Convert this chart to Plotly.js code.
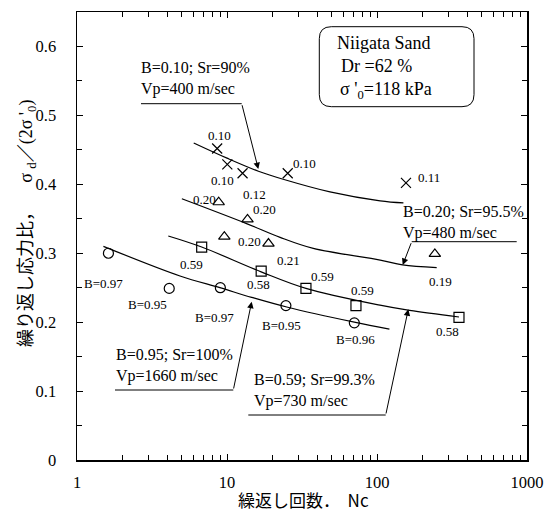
<!DOCTYPE html>
<html>
<head>
<meta charset="utf-8">
<script src="https://cdn.plot.ly/plotly-3.0.1.min.js"></script>
<style>html,body{margin:0;padding:0;background:#fff;}#chart{width:547px;height:512px;}</style>
</head>
<body>
<div id="chart"></div>
<script>
// ---- data ----
const nX = [8.6, 10.05, 12.7, 25.4, 156];
const sX = [0.452, 0.429, 0.416, 0.416, 0.402];
const lblX = ['0.10', '0.10', '0.12', '0.10', '0.11'];

const nTri = [8.8, 13.7, 9.6, 18.9, 243];
const sTri = [0.374, 0.349, 0.324, 0.314, 0.299];
const lblTri = ['0.20', '0.20', '0.20', '0.21', '0.19'];

const nSq = [6.78, 16.9, 33.6, 72.4, 352];
const sSq = [0.309, 0.274, 0.249, 0.224, 0.207];
const lblSq = ['0.59', '0.58', '0.59', '0.59', '0.58'];

const nCirc = [1.62, 4.12, 9.03, 24.7, 70.6];
const sCirc = [0.300, 0.249, 0.250, 0.224, 0.199];
const lblCirc = ['B=0.97', 'B=0.95', 'B=0.97', 'B=0.95', 'B=0.96'];

const fitXn = [6.0, 10, 16.2, 24, 48.6, 105, 150];
const fitXs = [0.460, 0.438, 0.419, 0.407, 0.389, 0.376, 0.373];
const fitTn = [5.0, 13.5, 22.6, 37.6, 105, 148, 250];
const fitTs = [0.379, 0.343, 0.323, 0.307, 0.290, 0.283, 0.279];
const fitSn = [4.06, 6.78, 16.9, 33.6, 104.7, 165, 352];
const fitSs = [0.325, 0.309, 0.273, 0.249, 0.2246, 0.217, 0.2075];
const fitCn = [1.50, 4.86, 8.97, 14.6, 25, 70.6, 121];
const fitCs = [0.310, 0.267, 0.250, 0.236, 0.222, 0.200, 0.190];

const xTickVals = [1, 10, 100, 1000];
const xTickText = ['1', '10', '100', '1000'];
const yTickVals = [0, 0.1, 0.2, 0.3, 0.4, 0.5, 0.6];
const yTickText = ['0', '0.1', '0.2', '0.3', '0.4', '0.5', '0.6'];

const callout1 = 'B=0.10; Sr=90%<br>Vp=400 m/sec';
const callout2 = 'B=0.20; Sr=95.5%<br>Vp=480 m/sec';
const callout3 = 'B=0.95; Sr=100%<br>Vp=1660 m/sec';
const callout4 = 'B=0.59; Sr=99.3%<br>Vp=730 m/sec';
const boxLines = ['Niigata Sand', 'Dr =62 %', "σ '<sub>0</sub>=118 kPa"];
const xTitle = '繰返し回数．\u00a0\u00a0Nc';
const yTitle = '繰り返し応力比，\u00a0\u00a0\u00a0\u00a0\u00a0' +
  '<span style="font-family:Liberation Serif">σ <sub>d</sub></span>／' +
  '<span style="font-family:Liberation Serif">(2σ \'<sub>0</sub>)</span>';

// ---- layout helpers ----
const L = 77, T = 12, W = 450, H = 448;
const px = x => (x - L) / W;
const py = y => (T + H - y) / H;
const SERIF = 'Liberation Serif';
const CJK = 'Noto Sans CJK JP';

const mk = (sym) => ({symbol: sym, size: 10, color: 'black', line: {color: 'black', width: 1.2}});
const lineTrace = (xs, ys) => ({x: xs, y: ys, mode: 'lines', type: 'scatter',
  line: {color: 'black', width: 1.2, shape: 'spline', smoothing: 1}, hoverinfo: 'skip'});
const ptTrace = (xs, ys, sym) => ({x: xs, y: ys, mode: 'markers', type: 'scatter', marker: mk(sym), cliponaxis: false});

const data = [
  lineTrace(fitXn, fitXs), lineTrace(fitTn, fitTs), lineTrace(fitSn, fitSs), lineTrace(fitCn, fitCs),
  ptTrace(nX, sX, 'x-thin-open'), ptTrace(nTri, sTri, 'triangle-up-open'),
  ptTrace(nSq, sSq, 'square-open'), ptTrace(nCirc, sCirc, 'circle-open'),
  {x: [xTickVals[1]], y: [yTickVals[1]], xaxis: 'x2', yaxis: 'y2', mode: 'markers', type: 'scatter',
   marker: {opacity: 0}, hoverinfo: 'skip'}
];

const annotations = [];
function labels(ns, ss, lbls, shifts) {
  ns.forEach((n, i) => annotations.push({
    x: Math.log10(n), y: ss[i], xref: 'x', yref: 'y', text: lbls[i], showarrow: false,
    xanchor: 'center', yanchor: 'middle',
    xshift: shifts[i][0], yshift: shifts[i][1], font: {family: SERIF, size: 13, color: 'black'}, borderpad: 0
  }));
}
labels(nX, sX, lblX, [[2, 13], [-5, -16], [12, -21], [17, 10], [23, 5]]);
labels(nTri, sTri, lblTri, [[-14, 3], [17, 10], [25, -5], [20, -17], [6, -28]]);
labels(nSq, sSq, lblSq, [[-10, -17], [-3, -13], [17, 12], [7, 15], [-11, -14]]);
labels(nCirc, sCirc, lblCirc, [[-5, -30], [-22, -16], [-6, -30], [-4, -20], [1, -17]]);

const shapes = [];
function callout(text, tx, ty, ux0, ux1, uy, tipx, tipy, tailx) {
  annotations.push({x: px(tx), y: py(ty), xref: 'paper', yref: 'paper', xanchor: 'left', yanchor: 'middle',
    align: 'left', text: text, showarrow: false, borderpad: 0, font: {family: SERIF, size: 16, color: 'black'}});
  annotations.push({x: px(tipx), y: py(tipy), xref: 'paper', yref: 'paper', text: '', showarrow: true,
    ax: tailx - tipx, ay: uy - tipy, arrowhead: 2, arrowsize: 1.3, arrowwidth: 1, arrowcolor: 'black', standoff: 0});
  shapes.push({type: 'line', xref: 'paper', yref: 'paper', x0: px(ux0), x1: px(ux1), y0: py(uy), y1: py(uy),
    line: {color: 'black', width: 1}});
}
callout(callout1, 140, 79, 141, 241.7, 103.7, 258.3, 169, 241.7);
callout(callout2, 401.7, 222, 411.7, 516.7, 241.7, 402.7, 265, 411.7);
callout(callout3, 115, 365, 115, 233.3, 390, 251.7, 301.7, 233.3);
callout(callout4, 253.3, 390, 248.3, 385.7, 415, 408.3, 309.3, 385.7);

// rounded info box
(function () {
  const x0 = 319.3, x1 = 474, y0 = 26.7, y1 = 106.7, r = 12;
  const P = (x, y) => px(x) + ',' + py(y);
  const path = 'M' + P(x0 + r, y0) + ' L' + P(x1 - r, y0) + ' Q' + P(x1, y0) + ' ' + P(x1, y0 + r) +
    ' L' + P(x1, y1 - r) + ' Q' + P(x1, y1) + ' ' + P(x1 - r, y1) +
    ' L' + P(x0 + r, y1) + ' Q' + P(x0, y1) + ' ' + P(x0, y1 - r) +
    ' L' + P(x0, y0 + r) + ' Q' + P(x0, y0) + ' ' + P(x0 + r, y0) + ' Z';
  shapes.push({type: 'path', xref: 'paper', yref: 'paper', path: path, line: {color: 'black', width: 1}});
})();
[[336, 42.7], [340, 66], [339, 90.7]].forEach((p, i) => annotations.push({
  x: px(p[0]), y: py(p[1]), xref: 'paper', yref: 'paper', xanchor: 'left', yanchor: 'middle',
  text: boxLines[i], showarrow: false, borderpad: 0, font: {family: SERIF, size: 18, color: 'black'}
}));

// axis titles
annotations.push({x: px(303), y: py(500), xref: 'paper', yref: 'paper', xanchor: 'center', yanchor: 'middle',
  text: xTitle, showarrow: false, borderpad: 0, font: {family: CJK, size: 17, color: 'black'}});
annotations.push({x: px(25), y: py(224), xref: 'paper', yref: 'paper', xanchor: 'center', yanchor: 'middle',
  text: yTitle, showarrow: false, borderpad: 0, textangle: -90, font: {family: CJK, size: 18, color: 'black'}});

const axisCommon = {showline: true, linecolor: 'black', linewidth: 1.5, mirror: true, ticks: 'inside',
  ticklen: 6, tickwidth: 1, tickcolor: 'black', showgrid: false, zeroline: false,
  tickfont: {family: SERIF, size: 16.5, color: 'black'}};
const xMinor = {ticks: 'inside', ticklen: 5, dtick: 'D1', tickcolor: 'black', tickwidth: 1, showgrid: false};
const yMinor = {ticks: 'inside', ticklen: 5, dtick: 0.05, tickcolor: 'black', tickwidth: 1, showgrid: false};

const layout = {
  width: 547, height: 512, margin: {l: L, r: 547 - L - W, t: T, b: 512 - T - H},
  paper_bgcolor: 'white', plot_bgcolor: 'white', showlegend: false,
  xaxis: Object.assign({}, axisCommon, {type: 'log', range: [0, 3], tickmode: 'array', tickvals: xTickVals,
    ticktext: xTickText, ticklabelstandoff: 7, minor: xMinor}),
  yaxis: Object.assign({}, axisCommon, {range: [0, 0.65], tickmode: 'array', tickvals: yTickVals,
    ticktext: yTickText, ticklabelstandoff: 16, minor: yMinor}),
  xaxis2: {type: 'log', range: [0, 3], overlaying: 'x', side: 'top', anchor: 'y2', showline: false,
    ticks: 'inside', ticklen: 6, tickcolor: 'black', tickmode: 'array', tickvals: xTickVals,
    showticklabels: false, showgrid: false, zeroline: false, minor: xMinor},
  yaxis2: {range: [0, 0.65], overlaying: 'y', side: 'right', anchor: 'x2', showline: false,
    ticks: 'inside', ticklen: 6, tickcolor: 'black', tickmode: 'array', tickvals: yTickVals,
    showticklabels: false, showgrid: false, zeroline: false, minor: yMinor},
  annotations: annotations, shapes: shapes
};

Plotly.newPlot('chart', data, layout, {staticPlot: true, displayModeBar: false});
</script>
</body>
</html>
